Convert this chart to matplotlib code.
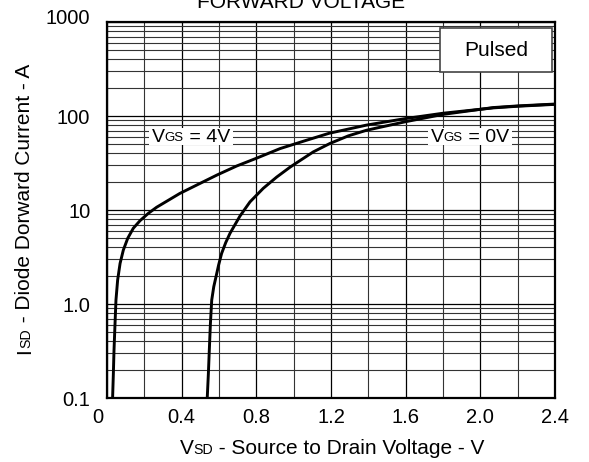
import matplotlib
matplotlib.use("Agg")
import matplotlib.pyplot as plt
from matplotlib.ticker import MultipleLocator, LogLocator, NullFormatter
from matplotlib.patches import Rectangle
from matplotlib.transforms import Bbox, ScaledTranslation

plt.rcParams['font.family'] = ['Liberation Sans', 'DejaVu Sans']

# dados (V, A)
v_4v = [0.030, 0.034, 0.0375, 0.043, 0.048, 0.057, 0.070, 0.0875, 0.111, 0.141, 0.177,
        0.221, 0.266, 0.39, 0.48, 0.59, 0.695, 0.80, 0.927, 1.061, 1.19, 1.39, 1.60,
        1.80, 2.07, 2.20, 2.40]
i_4v = [0.1, 0.18, 0.32, 0.62, 1.1, 1.8, 2.7, 3.75, 5.0, 6.4, 7.7,
        9.2, 10.7, 15, 18.4, 23.6, 29.4, 35.5, 45, 54.6, 65.5, 80, 94,
        107, 122, 127, 133]

v_0v = [0.537, 0.543, 0.548, 0.554, 0.561, 0.572, 0.584, 0.598, 0.614, 0.636, 0.659,
        0.686, 0.712, 0.766, 0.837, 0.909, 0.98, 1.016, 1.105, 1.194, 1.293, 1.39,
        1.60, 1.80, 2.07, 2.20, 2.40]
i_0v = [0.1, 0.18, 0.32, 0.62, 1.1, 1.53, 1.95, 2.6, 3.45, 4.5, 5.65,
        7.0, 8.6, 12.2, 17.0, 22.4, 28.5, 31.8, 41.5, 51, 61.5, 70.5,
        87, 104, 123, 128, 134]

x_ticks = [0, 0.4, 0.8, 1.2, 1.6, 2.0, 2.4]
x_labels = ['0', '0.4', '0.8', '1.2', '1.6', '2.0', '2.4']
y_ticks = [0.1, 1, 10, 100, 1000]
y_labels = ['0.1', '1.0', '10', '100', '1000']

titulo = 'FORWARD VOLTAGE'
x_rot = [('V', 15), ('SD', 10.2), (' - Source to Drain Voltage - V', 15)]
y_rot = [('I', 15), ('SD', 10.2), (' - Diode Dorward Current - A', 15)]
rot_4v = [('V', 14), ('GS', 9.5), (' = 4V', 14)]
rot_0v = [('V', 14), ('GS', 9.5), (' = 0V', 14)]

W, H = 589, 462
fig = plt.figure(figsize=(W / 100, H / 100), dpi=100)
ax = fig.add_axes([107 / W, 1 - 398 / H, 448 / W, 376 / H])

ax.plot(v_4v, i_4v, color='black', lw=2.1, zorder=3, solid_joinstyle='round')
ax.plot(v_0v, i_0v, color='black', lw=2.1, zorder=3, solid_joinstyle='round')

ax.set_yscale('log')
ax.set_xlim(0, 2.4)
ax.set_ylim(0.1, 1000)
ax.set_xticks(x_ticks, x_labels)
ax.set_yticks(y_ticks, y_labels)
ax.xaxis.set_minor_locator(MultipleLocator(0.2))
ax.yaxis.set_minor_locator(LogLocator(base=10, subs=range(2, 10)))
ax.yaxis.set_minor_formatter(NullFormatter())
ax.grid(True, which='major', color='black', lw=0.9)
ax.grid(True, which='minor', color='0.2', lw=0.8)
ax.tick_params(which='both', direction='in', length=0, labelsize=14.5)
ax.tick_params(axis='y', pad=12)
ax.tick_params(axis='x', pad=7)
for s in ax.spines.values():
    s.set_linewidth(1.6)
    s.set_zorder(4)

# caixa "Pulsed"
ax.add_patch(Rectangle((0.743, 0.867), 0.25, 0.117, transform=ax.transAxes,
                       facecolor='white', edgecolor='#444444', lw=1.2, zorder=3))
ax.text(0.868, 0.925, 'Pulsed', transform=ax.transAxes, ha='center', va='center',
        fontsize=15, zorder=4)

fig.text(301 / W, 1 - 7.5 / H, titulo, ha='center', va='baseline', fontsize=15)

D = 0.21  # descida aproximada da fonte (em)


def encadear(partes, rot=0):
    # junta pedacos de texto de tamanhos diferentes na mesma linha de base
    pecas = []
    for i, (txt, tam) in enumerate(partes):
        if i == 0:
            if rot:
                t = ax.text(0.5, 0.5, txt, transform=fig.transFigure, fontsize=tam, rotation=90,
                            ha='right', va='bottom', zorder=6, clip_on=False)
            else:
                t = ax.text(0.5, 0.5, txt, transform=fig.transFigure, fontsize=tam,
                            ha='left', va='bottom', zorder=6, clip_on=False)
        else:
            dif = D * (partes[i - 1][1] - tam)
            if rot:
                t = ax.annotate(txt, xy=(1, 1), xycoords=pecas[-1], xytext=(-dif, 0),
                                textcoords='offset points', fontsize=tam, rotation=90,
                                ha='right', va='bottom', zorder=6, annotation_clip=False)
            else:
                t = ax.annotate(txt, xy=(1, 0), xycoords=pecas[-1], xytext=(0, dif),
                                textcoords='offset points', fontsize=tam,
                                ha='left', va='bottom', zorder=6, annotation_clip=False)
        pecas.append(t)
    return pecas


def centrar(pecas, cx, cy):
    r = fig.canvas.get_renderer()
    bb = Bbox.union([p.get_window_extent(r) for p in pecas])
    x0, y0 = pecas[0].get_position()
    pecas[0].set_position((x0 + (cx - (bb.x0 + bb.x1) / 2) / W, y0 + (cy - (bb.y0 + bb.y1) / 2) / H))


def fundo(pecas, pad=3):
    r = fig.canvas.get_renderer()
    bb = Bbox.union([p.get_window_extent(r) for p in pecas])
    ax.add_patch(Rectangle(((bb.x0 - pad) / W, (bb.y0 + 1) / H),
                           (bb.width + 2 * pad) / W, (bb.height - 1) / H,
                           transform=fig.transFigure, facecolor='white',
                           edgecolor='none', zorder=5))


xl = encadear(x_rot)
yl = encadear(y_rot, rot=90)
l4 = encadear(rot_4v)
l0 = encadear(rot_0v)

fig.canvas.draw()
centrar(xl, 332, H - 449)
centrar(yl, 25, H - 209)
centrar(l4, 191, H - 137)
centrar(l0, 470, H - 137)

# pequenos deslocamentos dos rotulos "0" e "1000" como no original
lab0 = ax.xaxis.get_major_ticks()[0].label1
lab0.set_transform(lab0.get_transform() + ScaledTranslation(-0.09, 0, fig.dpi_scale_trans))
lab1000 = ax.yaxis.get_major_ticks()[4].label1
lab1000.set_transform(lab1000.get_transform() + ScaledTranslation(0, 0.05, fig.dpi_scale_trans))

fig.canvas.draw()
fundo(l4)
fundo(l0)

fig.savefig('out.png', dpi=100)
